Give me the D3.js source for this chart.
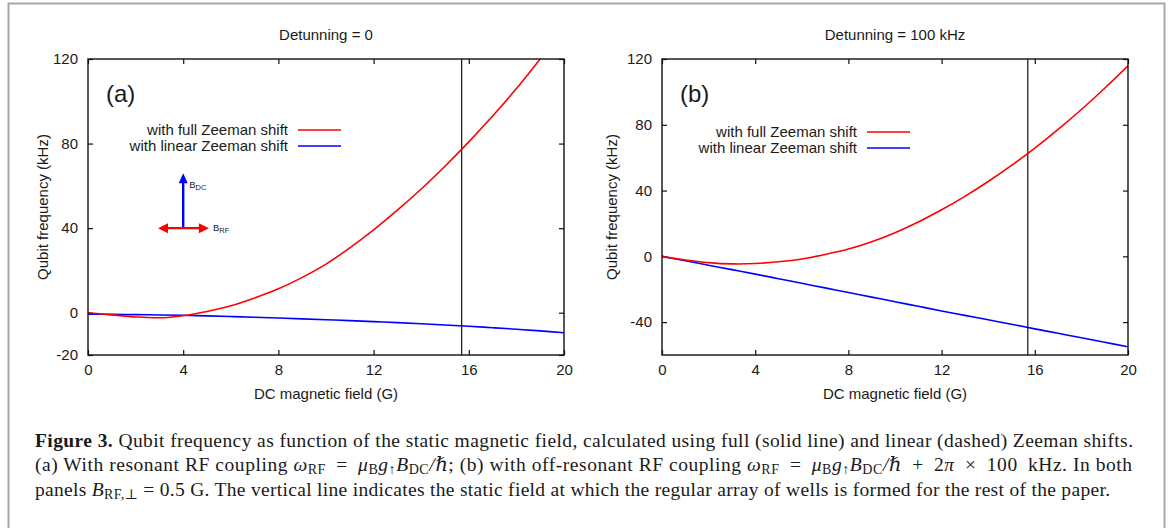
<!DOCTYPE html>
<html>
<head>
<meta charset="utf-8">
<script src="https://cdn.jsdelivr.net/npm/d3@7"></script>
<style>
  body { margin: 0; background: #fff; }
  svg { display: block; }
  text { font-family: "Liberation Sans", Arial, sans-serif; fill: #1a1a1a; }
  text.cap { font-family: "Liberation Serif", "DejaVu Serif", serif; }
</style>
</head>
<body>
<div id="chart"></div>
<script>
// Données
const fieldG = [0,1,2,3,4,5,6,7,8,9,10,11,12,13,14,15,16,17,18,19,20];
const fullA   = [0,-1.0,-2.0,-2.4,-1.4,0.6,3.3,7.0,11.3,16.7,23.0,30.7,39.2,48.5,58.5,69.3,80.8,93,106,120,134];
const linearA = [-0.7,-0.8,-0.9,-1.05,-1.2,-1.5,-1.8,-2.15,-2.5,-2.9,-3.3,-3.75,-4.2,-4.7,-5.2,-5.8,-6.4,-7.1,-7.8,-8.6,-9.5];
const fullB   = [0,-2.2,-3.8,-4.6,-4.4,-3.3,-1.6,1.1,4.4,8.9,14.4,20.9,28.3,36.5,45.5,55.3,65.8,77.2,89.3,102.2,115.8];
const linearB = [0,-2.7,-5.4,-8.1,-10.8,-13.6,-16.4,-19.2,-22.0,-24.8,-27.6,-30.4,-33.2,-35.9,-38.6,-41.3,-44.1,-46.8,-49.5,-52.3,-55.0];
const xTicks = [0,4,8,12,16,20];
const yTicksA = [-20,0,40,80,120];
const yTicksB = [-40,0,40,80,120];
const wellField = 15.7;
const seriesNames = ["with full Zeeman shift", "with linear Zeeman shift"];

const width = 1171, height = 528;
const fs = 15;
const svg = d3.select("#chart").append("svg")
    .attr("width", width)
    .attr("height", height);

// Cadre gris
svg.append("rect")
    .attr("x", 8.5).attr("y", 3.5)
    .attr("width", 1156).attr("height", 560)
    .attr("fill", "none").attr("stroke", "#a8a8a8").attr("stroke-width", 2);

const panels = [
    { id: "a", title: "Detunning = 0", left: 88, right: 564, yDom: [-20, 120], yTicks: yTicksA,
      full: fullA, linear: linearA, tag: "(a)", legX: 288, legY: 130, ylabX: 43 },
    { id: "b", title: "Detunning = 100 kHz", left: 662, right: 1128, yDom: [-60, 120], yTicks: yTicksB,
      full: fullB, linear: linearB, tag: "(b)", legX: 857, legY: 132, ylabX: 612 }
];
const plotTop = 59, plotBottom = 355;

panels.forEach(p => {
    const x = d3.scaleLinear().domain([0, 20]).range([p.left, p.right]);
    const y = d3.scaleLinear().domain(p.yDom).range([plotBottom, plotTop]);
    const g = svg.append("g");

    // Clip
    g.append("clipPath").attr("id", "clip-" + p.id)
        .append("rect").attr("x", p.left).attr("y", plotTop)
        .attr("width", p.right - p.left).attr("height", plotBottom - plotTop);

    // Axes (ticks vers l'intérieur, en miroir)
    const tl = 5;
    const fmt = d => String(d);
    g.append("g").attr("transform", `translate(0,${plotBottom})`)
        .call(d3.axisBottom(x).tickValues(xTicks).tickSize(-tl).tickPadding(9).tickFormat(fmt))
        .call(a => a.select(".domain").remove());
    g.append("g").attr("transform", `translate(0,${plotTop})`)
        .call(d3.axisTop(x).tickValues(xTicks).tickSize(-tl).tickFormat(""))
        .call(a => a.select(".domain").remove());
    g.append("g").attr("transform", `translate(${p.left},0)`)
        .call(d3.axisLeft(y).tickValues(p.yTicks).tickSize(-tl).tickPadding(10).tickFormat(fmt))
        .call(a => a.select(".domain").remove());
    g.append("g").attr("transform", `translate(${p.right},0)`)
        .call(d3.axisRight(y).tickValues(p.yTicks).tickSize(-tl).tickFormat(""))
        .call(a => a.select(".domain").remove());
    g.selectAll(".tick line").attr("stroke", "#111").attr("stroke-width", 1.2);
    g.selectAll(".tick text").attr("font-size", fs).attr("fill", "#1a1a1a")
        .attr("font-family", "Liberation Sans, Arial, sans-serif");

    // Ligne verticale
    g.append("line")
        .attr("x1", x(wellField)).attr("x2", x(wellField))
        .attr("y1", plotTop).attr("y2", plotBottom)
        .attr("stroke", "#111").attr("stroke-width", 1.2);

    // Courbes
    const line = d3.line()
        .x((d, i) => x(fieldG[i]))
        .y(d => y(d))
        .curve(d3.curveCatmullRom.alpha(0.5));
    const curves = g.append("g").attr("clip-path", `url(#clip-${p.id})`);
    curves.append("path").datum(p.linear)
        .attr("d", line).attr("fill", "none")
        .attr("stroke", "#0000ff").attr("stroke-width", 1.6);
    curves.append("path").datum(p.full)
        .attr("d", line).attr("fill", "none")
        .attr("stroke", "#ff0000").attr("stroke-width", 1.6);

    // Bordure
    g.append("rect")
        .attr("x", p.left).attr("y", plotTop)
        .attr("width", p.right - p.left).attr("height", plotBottom - plotTop)
        .attr("fill", "none").attr("stroke", "#111").attr("stroke-width", 1.4);

    // Titres
    g.append("text").attr("x", (p.left + p.right) / 2).attr("y", 40)
        .attr("text-anchor", "middle").attr("font-size", fs).text(p.title);
    g.append("text").attr("x", (p.left + p.right) / 2).attr("y", 399)
        .attr("text-anchor", "middle").attr("font-size", fs).text("DC magnetic field (G)");
    g.append("text")
        .attr("transform", `translate(${p.ylabX},${(plotTop + plotBottom) / 2}) rotate(-90)`)
        .attr("text-anchor", "middle").attr("dy", "0.35em")
        .attr("font-size", fs).text("Qubit frequency (kHz)");
    g.append("text").attr("x", p.left + 18).attr("y", 102)
        .attr("font-size", 24).text(p.tag);

    // Légende
    const colors = ["#ff0000", "#0000ff"];
    seriesNames.forEach((name, i) => {
        const ly = p.legY + i * 16;
        g.append("text").attr("x", p.legX).attr("y", ly).attr("dy", "0.35em")
            .attr("text-anchor", "end").attr("font-size", fs).text(name);
        g.append("line").attr("x1", p.legX + 10).attr("x2", p.legX + 53)
            .attr("y1", ly).attr("y2", ly)
            .attr("stroke", colors[i]).attr("stroke-width", 1.6);
    });

    // Flèches B_DC / B_RF (panneau a)
    if (p.id === "a") {
        const cx = x(4), cy = y(40);
        const up = y(66), l = x(2.94), r = x(5.08);
        g.append("line").attr("x1", cx).attr("x2", cx).attr("y1", cy).attr("y2", up + 8)
            .attr("stroke", "#0000ff").attr("stroke-width", 2.4);
        g.append("path").attr("d", `M${cx},${up} L${cx - 4.5},${up + 10} L${cx + 4.5},${up + 10} Z`)
            .attr("fill", "#0000ff");
        g.append("line").attr("x1", l + 8).attr("x2", r - 8).attr("y1", cy).attr("y2", cy)
            .attr("stroke", "#ff0000").attr("stroke-width", 2.4);
        g.append("path").attr("d", `M${l},${cy} L${l + 10},${cy - 5} L${l + 10},${cy + 5} Z`).attr("fill", "#ff0000");
        g.append("path").attr("d", `M${r},${cy} L${r - 10},${cy - 5} L${r - 10},${cy + 5} Z`).attr("fill", "#ff0000");
        const t1 = g.append("text").attr("x", cx + 6).attr("y", up + 15).attr("font-size", 9.5);
        t1.append("tspan").text("B");
        t1.append("tspan").attr("font-size", 7.5).attr("baseline-shift", -2).text("DC");
        const t2 = g.append("text").attr("x", r + 4).attr("y", cy + 3).attr("font-size", 9.5);
        t2.append("tspan").text("B");
        t2.append("tspan").attr("font-size", 7.5).attr("baseline-shift", -2).text("RF");
    }
});

// Légende de la figure (texte)
const cap = svg.append("g");
function plain(t, s) { t.append("tspan").text(s); }
function ital(t, s) { t.append("tspan").attr("font-style", "italic").text(s); }
function sub(t, s) { t.append("tspan").attr("font-size", "0.72em").attr("baseline-shift", -3).text(s); }
const sp = "\u2002";

const l1 = cap.append("text").attr("class", "cap").attr("x", 35).attr("y", 447);
l1.append("tspan").attr("font-weight", "bold").text("Figure 3.");
plain(l1, " Qubit frequency as function of the static magnetic field, calculated using full (solid line) and linear (dashed) Zeeman shifts.");

const l2 = cap.append("text").attr("class", "cap").attr("x", 35).attr("y", 471);
plain(l2, "(a) With resonant RF coupling ");
ital(l2, "ω"); sub(l2, "RF"); plain(l2, sp + "=" + sp); ital(l2, "μ"); sub(l2, "B"); ital(l2, "g"); sub(l2, "↑");
ital(l2, "B"); sub(l2, "DC"); ital(l2, "/ℏ");
plain(l2, "; (b) with off-resonant RF coupling ");
ital(l2, "ω"); sub(l2, "RF"); plain(l2, sp + "=" + sp); ital(l2, "μ"); sub(l2, "B"); ital(l2, "g"); sub(l2, "↑");
ital(l2, "B"); sub(l2, "DC"); ital(l2, "/ℏ");
plain(l2, sp + "+" + sp + "2"); ital(l2, "π"); plain(l2, sp + "×" + sp + "100" + sp + "kHz. In both");

const l3 = cap.append("text").attr("class", "cap").attr("x", 35).attr("y", 496);
plain(l3, "panels "); ital(l3, "B"); sub(l3, "RF,⊥");
plain(l3, " = 0.5 G. The vertical line indicates the static field at which the regular array of wells is formed for the rest of the paper.");

// Taille de police et justification des lignes
cap.selectAll("text.cap").attr("font-size", 19.5);
[[l1, 1098], [l2, 1097], [l3, 1075]].forEach(([t, w]) => {
    t.attr("textLength", w).attr("lengthAdjust", "spacing");
});
</script>
</body>
</html>
